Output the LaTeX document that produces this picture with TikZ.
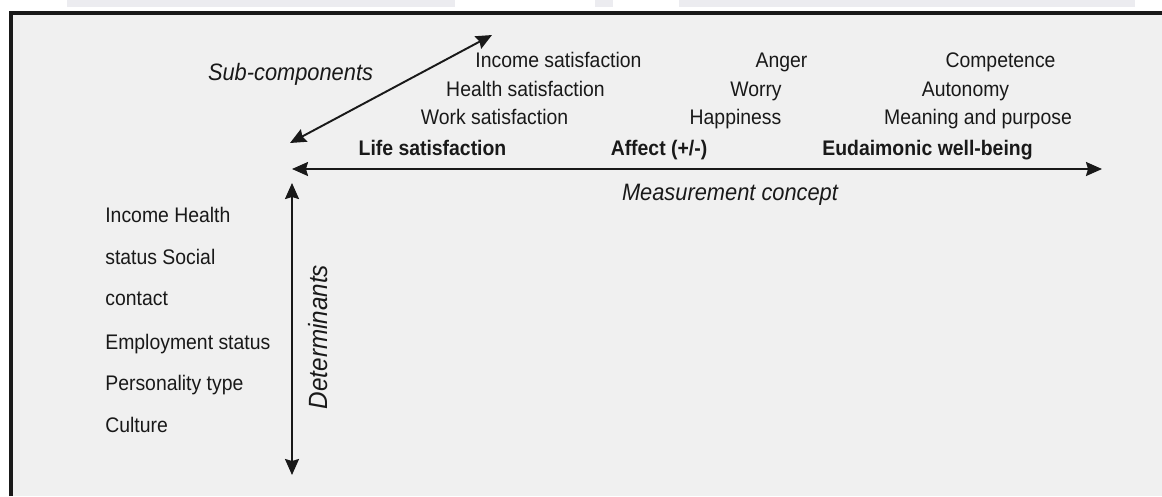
\documentclass[tikz,border=0pt]{standalone}
\usepackage{fontspec}
\setmainfont{Liberation Sans}[FakeStretch=0.92]
\usepackage{tikz}
\usetikzlibrary{arrows.meta}
\definecolor{panel}{RGB}{240,240,240}
\definecolor{wmark}{RGB}{236,236,240}
\definecolor{ink}{RGB}{25,25,25}

\begin{document}
\begin{tikzpicture}[
  axis/.style={line width=1.1pt,draw=ink,
    {Stealth[length=3.2mm,width=2.8mm,inset=0.4mm]}-{Stealth[length=3.2mm,width=2.8mm,inset=0.4mm]}},
  item/.style={anchor=base,text=ink,inner sep=0pt,font=\fontsize{12}{14}\selectfont},
  head/.style={item,font=\fontsize{12}{14}\selectfont\bfseries},
  concept/.style={item,font=\fontsize{13.5}{16}\selectfont\itshape}]
\useasboundingbox (0,0) rectangle (23.24,-9.92);
\fill[white] (0,0) rectangle (23.24,-9.92);
% faint strip above the frame
\fill[wmark] (1.34,0) rectangle (9.10,-0.14);
\fill[wmark] (11.90,0) rectangle (12.26,-0.14);
\fill[wmark] (13.58,0) rectangle (22.70,-0.14);
% frame
\fill[panel] (0.22,-0.26) rectangle (23.24,-9.92);
\draw[ink,line width=1.8pt] (0.22,-9.92) -- (0.22,-0.26) -- (23.24,-0.26);

% axes
\coordinate (o) at (5.84,-3.38);
\coordinate (mend) at (22.04,-3.38);
\coordinate (dtop) at (5.84,-3.66);
\coordinate (dend) at (5.84,-9.50);
\coordinate (sbot) at (5.80,-2.86);
\coordinate (send) at (9.84,-0.70);
\draw[axis] (o) -- (mend);
\draw[axis] (dtop) -- (dend);
\draw[axis] (sbot) -- (send);

\node (sub) [concept] at (5.81,-1.60) {Sub-components};
\node (meas) [concept] at (14.60,-4.00) {Measurement concept};
\node (det) [concept,anchor=center,rotate=90,font=\fontsize{15}{18}\selectfont\itshape] at (6.36,-6.74) {Determinants};

% life satisfaction column
\node (inc) [item] at (11.17,-1.35) {Income satisfaction};
\node (hea) [item] at (10.51,-1.93) {Health satisfaction};
\node (wrk) [item] at (9.89,-2.49) {Work satisfaction};
\node (life) [head] at (8.65,-3.11) {Life satisfaction};

% affect column
\node (ang) [item] at (15.63,-1.35) {Anger};
\node (wor) [item] at (15.12,-1.93) {Worry};
\node (hap) [item] at (14.71,-2.49) {Happiness};
\node (aff) [head] at (13.18,-3.11) {Affect (+/-)};

% eudaimonic column
\node (comp) [item] at (20.01,-1.35) {Competence};
\node (aut) [item] at (19.31,-1.93) {Autonomy};
\node (mean) [item] at (19.56,-2.49) {Meaning and purpose};
\node (eud) [head] at (18.55,-3.11) {Eudaimonic well-being};

% determinants list
\node (d1) [item,anchor=base west] at (2.10,-4.45) {Income Health};
\node (d2) [item,anchor=base west] at (2.10,-5.29) {status Social};
\node (d3) [item,anchor=base west] at (2.10,-6.11) {contact};
\node (d4) [item,anchor=base west] at (2.10,-6.99) {Employment status};
\node (d5) [item,anchor=base west] at (2.10,-7.81) {Personality type};
\node (d6) [item,anchor=base west] at (2.10,-8.65) {Culture};
\end{tikzpicture}
\end{document}
